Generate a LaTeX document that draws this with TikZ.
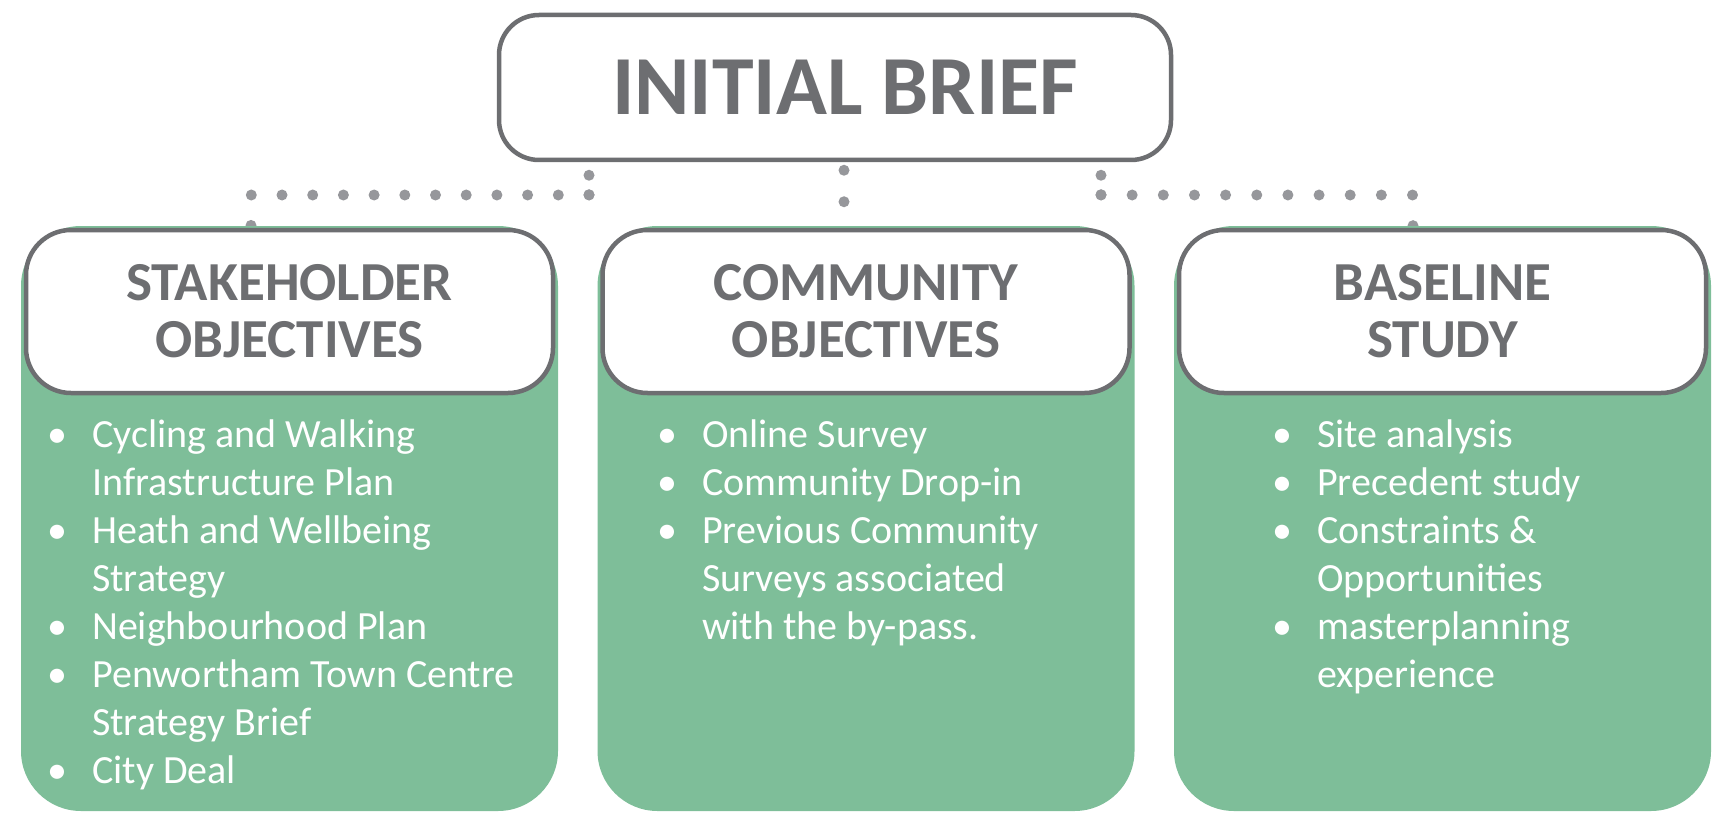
\documentclass[tikz,border=0pt]{standalone}
\usepackage{fontspec}
\setmainfont{Carlito}
\usepackage{tikz}

\definecolor{headgray}{RGB}{109,110,113}
\definecolor{dotgray}{RGB}{150,151,155}
\definecolor{panelgreen}{RGB}{126,190,153}
\newcommand{\bul}{\llap{\makebox[70pt][c]{\textbullet}}}

\begin{document}
\begin{tikzpicture}[x=1pt, y=-1pt,
    panel/.style={fill=panelgreen, rounded corners=60pt, minimum width=537pt, minimum height=585pt},
    head/.style={draw=headgray, line width=4.5pt, fill=white, rounded corners=45pt, minimum width=527pt, minimum height=163pt, align=center, text=headgray, font=\fontsize{55}{57}\selectfont\bfseries},
    body/.style={anchor=base west, align=left, inner sep=0pt, text=white, font=\fontsize{40}{48}\selectfont},
    dots/.style={dotgray, line width=11pt, line cap=round, dash pattern=on 0pt off 30.7pt}]
    \useasboundingbox (0,0) rectangle (1728,813);

    \node[head, minimum width=672pt, minimum height=145pt, rounded corners=40pt, font=\fontsize{84}{84}\selectfont\bfseries] (brief) at (835,87.5) {\hspace{20pt}INITIAL BRIEF};

    % joints of the dotted connectors
    \coordinate (ljoin) at (589,195);
    \coordinate (rjoin) at (1101,195);
    \coordinate (mdot) at (844,202);
    \coordinate (ldrop) at (251,226);
    \coordinate (rdrop) at (1413,226);
    \draw[dots, dash pattern=on 0pt off 19.5pt, shorten <=13pt] (brief.south -| ljoin) -- (ljoin);
    \draw[dots, dash pattern=on 0pt off 19.5pt, shorten <=13pt] (brief.south -| rjoin) -- (rjoin);
    \draw[dots, dash pattern=on 0pt off 31.5pt, shorten <=8pt] (brief.south -| mdot) -- (mdot);
    \draw[dots] (ljoin) -| (ldrop);
    \draw[dots, dash pattern=on 0pt off 31.15pt] (rjoin) -| (rdrop);

    \foreach \x/\name/\title in {289.5/stake/{STAKEHOLDER\\OBJECTIVES},
        866/comm/{COMMUNITY\\OBJECTIVES},
        1442.5/base/{BASELINE\\STUDY}}{
        \node[panel] (\name panel) at (\x,518.5) {};
        \node[head] (\name) at (\x,311.5) {\title};
    }

    % lists sit on the baseline of their last line
    \node[body] (stakelist) at (92,783) {\bul Cycling and Walking\\Infrastructure Plan\\\bul Heath and Wellbeing\\Strategy\\\bul Neighbourhood Plan\\\bul Penwortham Town Centre\\Strategy Brief\\\bul City Deal};
    \node[body] (commlist) at (702,639) {\bul Online Survey\\\bul Community Drop-in\\\bul Previous Community\\Surveys associated\\with the by-pass.};
    \node[body] (baselist) at (1317,687) {\bul Site analysis\\\bul Precedent study\\\bul Constraints \&\\Opportunities\\\bul masterplanning\\experience};
\end{tikzpicture}
\end{document}
